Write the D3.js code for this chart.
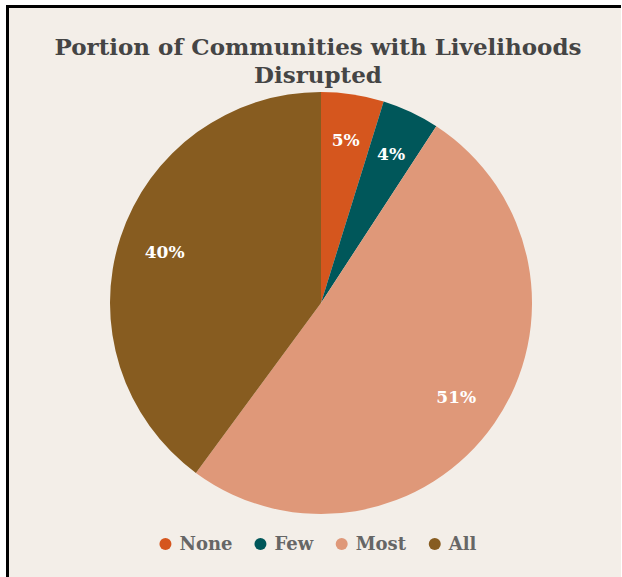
<!DOCTYPE html>
<html>
<head>
<meta charset="utf-8">
<script src="https://cdn.jsdelivr.net/npm/d3@7"></script>
<style>
  body { margin: 0; background: #fff; }
  svg { display: block; }
</style>
</head>
<body>
<svg id="chart" width="622" height="577"></svg>
<script>
const categories = ['None', 'Few', 'Most', 'All'];
const shares = [4.8, 4.4, 50.9, 39.9];
const colors = ['#d5561e', '#00575a', '#df9879', '#875c20'];
const titleLines = ['Portion of Communities with Livelihoods', 'Disrupted'];

const FONT = '"DejaVu Serif", Georgia, serif';
const W = 622, H = 577;
const CX = 321, CY = 303, R = 211;

const svg = d3.select('#chart');

// background + the two visible borders (top and left)
svg.append('rect').attr('x', 6).attr('y', 5).attr('width', W - 7).attr('height', H - 5).attr('fill', '#f3eee8');
svg.append('rect').attr('x', 6).attr('y', 5).attr('width', W - 7).attr('height', 3).attr('fill', '#000');
svg.append('rect').attr('x', 6).attr('y', 5).attr('width', 3).attr('height', H - 5).attr('fill', '#000');

svg.append('g')
  .selectAll('text')
  .data(titleLines)
  .join('text')
  .attr('x', 318)
  .attr('y', (d, i) => 55 + i * 28)
  .attr('text-anchor', 'middle')
  .attr('font-family', FONT)
  .attr('font-weight', 'bold')
  .attr('font-size', 23)
  .attr('fill', '#454545')
  .text(d => d);

const pieData = categories.map((c, i) => ({ name: c, value: shares[i], color: colors[i] }));
const pie = d3.pie().value(d => d.value).sort(null);
const arc = d3.arc().innerRadius(0).outerRadius(R);
const labelArc = d3.arc().innerRadius(R * 0.78).outerRadius(R * 0.78);

const g = svg.append('g').attr('transform', `translate(${CX},${CY})`);
const arcs = pie(pieData);

g.selectAll('path')
  .data(arcs)
  .join('path')
  .attr('d', arc)
  .attr('fill', d => d.data.color);

g.selectAll('text')
  .data(arcs)
  .join('text')
  .attr('transform', d => `translate(${labelArc.centroid(d)})`)
  .attr('text-anchor', 'middle')
  .attr('dy', '0.35em')
  .attr('font-family', FONT)
  .attr('font-weight', 'bold')
  .attr('font-size', 17)
  .attr('fill', '#fff')
  .text(d => Math.round(d.data.value) + '%');

// legend
const legend = svg.append('g').attr('transform', 'translate(0,544)');
const items = legend.selectAll('g')
  .data(pieData)
  .join('g');
items.append('circle').attr('r', 6).attr('cy', 0).attr('fill', d => d.color);
items.append('text')
  .attr('x', 14)
  .attr('dy', '0.35em')
  .attr('font-family', FONT)
  .attr('font-weight', 'bold')
  .attr('font-size', 18)
  .attr('fill', '#666')
  .text(d => d.name);

let xPos = 0;
const pos = [];
items.each(function () {
  const w = this.getBBox().width;
  pos.push(xPos);
  xPos += w + 22;
});
const total = xPos - 22;
const start = 318 - total / 2 + 6;
items.attr('transform', (d, i) => `translate(${start + pos[i]},0)`);
</script>
</body>
</html>
